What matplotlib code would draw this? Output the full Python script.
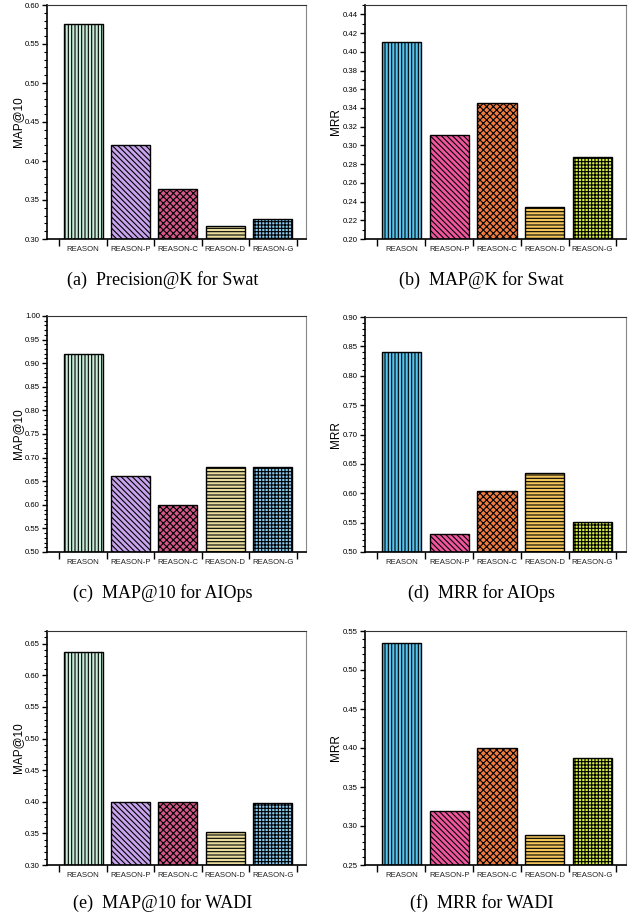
import numpy as np
import matplotlib
matplotlib.use("Agg")
import matplotlib.pyplot as plt
from matplotlib.ticker import MultipleLocator, FormatStrFormatter

methods = ["REASON", "REASON-P", "REASON-C", "REASON-D", "REASON-G"]

swat_prec = [0.576, 0.421, 0.364, 0.317, 0.325]
swat_map = [0.410, 0.311, 0.345, 0.234, 0.288]
aiops_map = [0.920, 0.660, 0.600, 0.680, 0.680]
aiops_mrr = [0.840, 0.531, 0.604, 0.634, 0.551]
wadi_map = [0.637, 0.399, 0.399, 0.352, 0.398]
wadi_mrr = [0.534, 0.319, 0.400, 0.288, 0.387]

captions = ["(a)  Precision@K for Swat", "(b)  MAP@K for Swat",
            "(c)  MAP@10 for AIOps", "(d)  MRR for AIOps",
            "(e)  MAP@10 for WADI", "(f)  MRR for WADI"]

left_colors = ["#c8ecd8", "#c9a4ee", "#d4588a", "#e8dc9c", "#86caf0"]
right_colors = ["#55c4ee", "#f0569e", "#f07c40", "#f2c45a", "#d6ee44"]
hatches = ["|||||", "\\\\\\\\\\\\", "xxxxx", "-----", "+++++"]

plt.rcParams["font.family"] = ["Liberation Sans", "DejaVu Sans"]
plt.rcParams["hatch.linewidth"] = 0.8

W, H = 634, 919
fig = plt.figure(figsize=(W / 100, H / 100), dpi=100)

# (values, ylabel, ylim, major step, colors, box in px: left, right, top, bottom, caption y)
panels = [
    (swat_prec, "MAP@10", (0.30, 0.60), 0.05, left_colors, (47, 306, 5, 239, 280)),
    (swat_map, "MRR", (0.20, 0.45), 0.02, right_colors, (365, 626, 5, 239, 280)),
    (aiops_map, "MAP@10", (0.50, 1.00), 0.05, left_colors, (47, 306, 316, 552, 593)),
    (aiops_mrr, "MRR", (0.50, 0.90), 0.05, right_colors, (365, 626, 317, 552, 593)),
    (wadi_map, "MAP@10", (0.30, 0.67), 0.05, left_colors, (47, 306, 631, 865, 903)),
    (wadi_mrr, "MRR", (0.25, 0.55), 0.05, right_colors, (365, 626, 631, 865, 903)),
]

x = np.arange(len(methods))
for (vals, ylab, ylim, step, cols, box), cap in zip(panels, captions):
    l, r, t, b, cy = box
    ax = fig.add_axes([l / W, 1 - b / H, (r - l) / W, (b - t) / H])
    base = ylim[0]
    for i, v in enumerate(vals):
        ax.bar(x[i], v - base, bottom=base, width=0.82, color=cols[i],
               edgecolor="black", linewidth=1.0, hatch=hatches[i])
    ax.set_xlim(-0.76, 4.70)
    ax.set_ylim(*ylim)
    ax.yaxis.set_major_locator(MultipleLocator(step))
    ax.yaxis.set_minor_locator(MultipleLocator(0.01))
    ax.yaxis.set_major_formatter(FormatStrFormatter("%.2f"))
    ax.set_xticks(np.arange(-0.5, 5.0, 1.0))
    ax.set_xticklabels([])
    ax.set_xticks(x, minor=True)
    ax.set_xticklabels(methods, minor=True, fontsize=5.6, color="#222222")
    ax.tick_params(axis="x", which="major", direction="out", length=5, width=1.0)
    ax.tick_params(axis="x", which="minor", length=0, pad=5)
    ax.tick_params(axis="y", which="major", direction="out", length=3.5, width=1.0,
                   labelsize=5.6, pad=1.5)
    ax.tick_params(axis="y", which="minor", direction="out", length=2, width=0.8)
    ax.spines["left"].set_linewidth(1.2)
    ax.spines["bottom"].set_linewidth(1.2)
    ax.spines["top"].set_linewidth(0.8)
    ax.spines["top"].set_color("#333333")
    ax.spines["right"].set_linewidth(0.8)
    ax.spines["right"].set_color("#888888")
    ax.set_ylabel(ylab, fontsize=8.5)
    ax.yaxis.set_label_coords(-0.09, 0.5)
    fig.text(((l + r) / 2 - 14) / W, 1 - cy / H, cap, ha="center", va="center",
             fontsize=13, family=["Liberation Serif", "DejaVu Serif"])

fig.savefig("out.png", dpi=100)
